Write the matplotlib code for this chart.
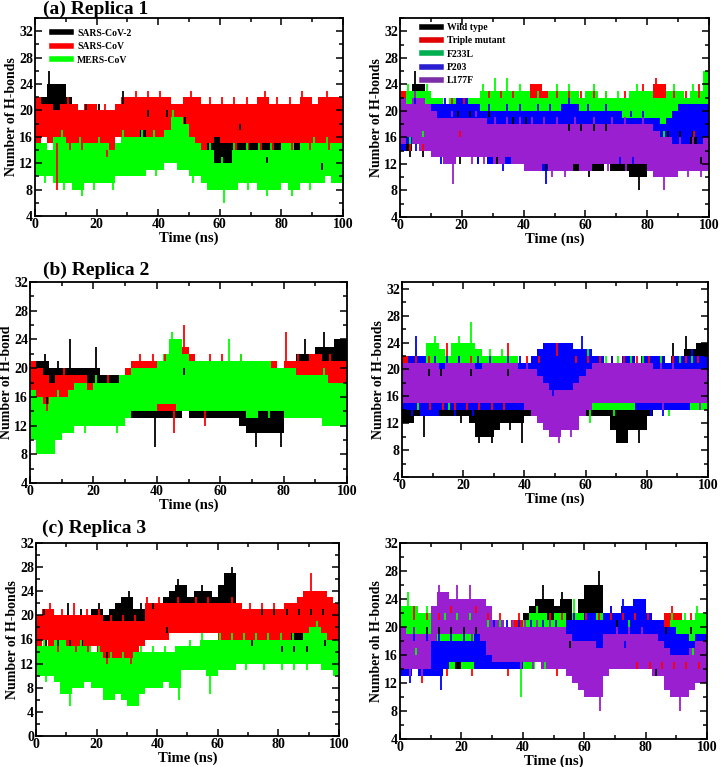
import numpy as np
import matplotlib
matplotlib.use("Agg")
import matplotlib.pyplot as plt
from matplotlib.lines import Line2D
from matplotlib.ticker import MultipleLocator

plt.rcParams["font.family"] = "Liberation Serif"
plt.rcParams["font.weight"] = "bold"
plt.rcParams["axes.labelweight"] = "bold"

# H-bond counts, in 2 ns blocks (0-2, 2-4, ... 98-100 ns):
# *_hi = top of the trace in the block, *_lo = bottom of the trace in the block

# ---- Replica 1, left: SARS-CoV-2 / SARS-CoV / MERS-CoV
r1_cov2_hi = [22,22,26,24,24,22,21,20,21,20,21,20,20,21,23,20,20,19,20,19,19,20,19,18,19,18,17,17,17,17,16,17,17,18,17,17,17,17,17,17,17,17,17,17,17,17,17,17,17,17]
r1_cov2_lo = [16,17,18,17,17,16,15,15,15,15,15,14,14,16,16,15,15,15,15,14,14,14,14,14,14,13,13,13,12,12,12,12,13,13,13,13,13,12,13,13,13,14,14,13,13,12,11,13,13,13]
r1_sars_hi = [22,21,21,20,21,22,21,20,21,21,20,21,20,21,22,22,23,22,23,22,23,22,21,21,22,23,22,21,22,21,22,21,22,21,22,21,22,23,21,22,21,22,21,23,22,21,22,23,22,22]
r1_sars_lo = [15,16,15,8,15,14,15,14,15,14,14,13,14,16,16,16,16,17,16,16,16,17,16,16,16,15,14,14,15,16,15,15,14,15,14,15,14,15,14,15,15,14,15,15,14,15,15,14,15,15]
r1_mers_hi = [15,15,14,16,17,15,15,16,15,15,16,15,14,15,17,16,16,17,16,17,16,17,20,19,18,16,15,14,15,12,13,12,15,14,15,14,15,14,15,14,15,15,14,15,15,16,15,16,15,15]
r1_mers_lo = [10,9,10,9,8,9,8,7,9,8,9,9,8,10,10,10,10,10,11,10,11,12,12,11,11,9,10,9,8,8,6,8,8,9,8,9,8,7,8,8,9,7,8,9,8,9,9,10,9,9]

# ---- Replica 1, right: wild type and mutants
r1_wt_hi = [22,23,26,24,22,21,20,20,19,20,19,20,19,19,20,19,19,18,19,18,19,18,18,19,18,18,17,18,17,18,17,18,17,18,17,17,17,16,16,17,17,16,16,17,16,17,16,17,16,17]
r1_wt_lo = [14,13,15,13,14,14,13,13,13,12,13,13,12,13,13,12,13,12,12,12,12,12,12,11,12,12,12,11,11,11,10,11,11,12,11,11,11,10,8,10,11,11,12,12,12,12,12,13,12,13]
r1_tm_hi = [23,22,23,22,21,22,22,21,22,21,22,21,22,22,23,22,23,22,23,22,23,24,24,23,22,23,22,23,22,23,22,23,22,23,22,22,23,22,23,24,23,25,24,22,23,22,23,22,24,22]
r1_tm_lo = [15,14,16,14,15,16,16,16,17,16,17,17,17,18,18,18,18,18,18,18,19,20,19,18,18,18,18,18,18,18,18,18,18,18,18,18,18,18,18,19,20,20,17,17,17,17,17,16,17,16]
r1_f233l_hi = [22,24,23,23,24,22,22,21,22,22,21,22,22,24,23,25,23,25,23,24,23,22,23,22,23,24,23,24,23,22,23,24,22,23,22,23,22,23,24,23,23,22,22,23,24,23,22,24,23,26]
r1_f233l_lo = [16,15,17,16,17,17,17,17,18,17,17,18,18,20,20,20,20,20,20,19,19,18,17,17,18,19,19,19,19,19,19,19,19,19,19,19,19,19,19,19,18,17,16,17,18,18,18,18,18,18]
r1_p203_hi = [22,21,22,21,20,21,21,22,21,22,22,21,21,20,21,20,20,21,20,21,20,20,21,20,21,20,21,22,21,20,21,20,20,21,20,20,19,20,19,20,19,19,18,19,20,21,21,21,21,21]
r1_p203_lo = [14,15,14,15,14,13,12,13,13,13,13,13,12,13,12,12,11,12,12,12,12,12,11,9,12,12,12,12,12,12,12,12,12,12,13,12,13,12,13,13,14,14,14,15,15,15,15,16,15,15]
r1_l177f_hi = [22,21,23,22,21,20,19,19,20,19,19,19,20,19,18,19,18,19,18,19,18,19,18,19,18,19,18,18,19,18,18,19,18,18,19,18,19,18,18,19,18,17,16,16,15,16,15,16,15,16]
r1_l177f_lo = [15,16,15,14,14,13,13,12,9,13,13,12,13,12,13,12,12,13,12,12,11,11,11,12,10,11,10,11,12,11,11,12,12,11,12,12,11,12,12,12,11,10,8,10,10,11,10,11,10,11]

# ---- Replica 2, left
r2_cov2_hi = [20,21,22,20,21,20,24,20,20,20,23,19,19,19,19,19,19,20,20,20,20,20,20,19,20,19,19,19,19,19,19,19,19,19,19,19,19,19,19,20,20,21,22,24,22,23,25,23,24,24]
r2_cov2_lo = [15,16,15,16,17,17,16,16,16,16,15,14,14,14,13,13,13,13,13,9,13,13,13,13,14,13,13,13,13,13,13,13,13,12,11,9,11,11,11,9,14,16,17,17,17,17,17,17,17,17]
r2_sars_hi = [21,20,19,18,19,20,19,19,19,18,19,18,19,18,19,20,21,22,21,22,21,22,21,23,26,22,21,21,22,21,22,21,21,22,21,21,20,21,21,20,25,21,22,21,22,22,21,22,21,21]
r2_sars_lo = [17,16,14,15,15,15,15,15,15,15,14,14,14,14,14,14,14,14,14,14,14,14,11,14,15,14,14,12,14,15,15,15,15,15,15,15,15,15,15,16,17,17,17,17,17,17,17,16,16,17]
r2_mers_hi = [17,16,15,16,17,16,17,18,18,17,19,18,18,18,19,19,20,20,20,20,21,22,25,24,22,21,21,21,21,21,21,24,21,22,21,21,21,21,20,20,20,20,19,19,19,19,20,18,18,18]
r2_mers_lo = [10,8,8,8,10,11,11,12,11,12,12,12,12,11,12,13,14,14,14,14,15,15,15,14,14,14,14,14,14,14,14,14,14,14,13,13,14,13,14,14,13,13,13,13,13,13,12,12,12,12]

# ---- Replica 2, right
r2_wt_hi = [22,20,20,19,20,19,20,19,19,19,19,20,19,19,19,19,19,20,19,19,19,19,19,19,19,19,19,19,19,19,19,19,19,19,19,19,19,19,19,19,20,21,22,21,24,22,25,23,24,24]
r2_wt_lo = [12,12,13,10,13,13,13,13,13,12,13,12,9,10,9,11,12,11,12,9,13,13,12,12,12,12,12,12,13,13,13,13,13,13,11,9,9,11,9,11,13,15,16,17,18,20,20,21,20,19]
r2_tm_hi = [22,21,22,21,22,21,22,24,21,22,21,22,21,22,22,21,22,24,22,21,22,21,22,21,22,24,22,21,22,21,22,21,22,21,22,21,22,21,22,21,22,21,22,21,22,21,22,21,22,21]
r2_tm_lo = [14,15,14,15,14,15,14,15,14,15,14,15,14,15,14,15,14,15,14,14,14,14,13,13,13,13,13,14,14,14,14,14,14,14,14,14,14,14,14,14,14,14,14,14,14,14,14,14,14,14]
r2_f233l_hi = [21,22,23,22,24,25,23,22,24,25,24,27,23,22,23,22,23,22,22,21,21,20,20,19,19,19,20,21,22,22,23,22,21,22,21,22,21,22,21,22,21,21,22,21,21,22,21,22,21,21]
r2_f233l_lo = [14,15,14,15,14,14,15,14,15,15,15,15,15,15,15,15,15,15,15,14,14,14,14,14,14,14,14,14,14,14,12,14,14,14,13,14,14,14,14,14,14,14,14,13,14,14,14,14,14,14]
r2_p203_hi = [21,22,25,22,21,22,21,22,21,22,21,21,22,21,22,21,21,22,21,22,21,22,23,24,24,24,24,24,23,25,23,22,22,21,22,21,22,22,21,22,22,22,22,21,22,22,22,23,22,22]
r2_p203_lo = [14,13,14,13,13,13,14,14,13,14,14,13,14,14,14,14,14,14,14,14,15,16,17,17,16,17,17,17,18,16,15,15,15,15,15,15,15,15,14,14,13,14,13,14,14,14,14,15,15,15]
r2_l177f_hi = [21,21,21,21,21,21,20,21,21,21,21,21,20,21,21,21,21,21,21,20,21,20,19,18,17,17,17,17,18,19,20,21,21,21,21,21,21,21,21,21,21,20,21,20,21,20,20,20,20,20]
r2_l177f_lo = [15,15,15,15,15,15,15,15,15,15,15,15,15,15,15,15,15,15,15,15,14,13,12,11,10,9,11,10,11,13,14,15,15,15,15,15,15,15,15,15,15,15,14,15,15,15,15,15,14,15]

# ---- Replica 3, left
r3_cov2_hi = [19,21,20,19,20,22,20,21,20,21,22,20,21,22,23,24,21,22,21,22,21,23,24,26,25,23,24,25,24,23,25,27,28,22,21,21,20,21,20,21,20,21,20,21,20,21,20,21,20,20]
r3_cov2_lo = [16,15,16,15,16,15,16,15,16,15,14,13,15,16,16,17,16,16,17,17,18,17,19,19,19,18,18,18,18,19,20,19,17,16,16,15,16,15,15,15,14,15,14,15,14,15,16,15,16,15]
r3_sars_hi = [20,21,22,20,21,20,22,20,21,20,21,19,20,19,20,19,20,19,23,22,23,22,22,23,22,22,23,22,23,22,22,22,23,22,21,22,21,22,21,22,21,22,22,23,24,27,24,24,23,22]
r3_sars_lo = [15,16,15,14,15,15,14,15,14,15,14,12,13,13,13,12,14,15,16,16,16,16,17,17,17,17,17,17,17,17,16,16,16,16,16,16,16,16,16,16,16,16,17,17,17,17,17,16,16,16]
r3_mers_hi = [15,16,15,16,16,15,15,16,15,14,15,13,14,13,14,13,14,15,14,15,14,15,14,15,15,16,15,17,16,16,17,16,17,16,17,16,17,16,17,16,17,16,17,16,17,18,19,17,16,16]
r3_mers_lo = [10,9,10,9,7,5,8,8,9,8,8,6,6,7,6,5,5,7,8,8,8,9,8,6,11,11,11,11,7,10,11,11,11,12,11,12,12,11,12,12,11,12,11,12,11,12,12,11,11,10]

# ---- Replica 3, right
r3_wt_hi = [20,19,20,19,20,19,20,19,20,19,20,19,20,19,20,20,21,20,21,21,22,23,24,26,24,23,25,24,22,24,26,26,28,21,20,21,20,20,20,20,20,20,19,20,19,19,19,20,19,20]
r3_wt_lo = [14,14,14,14,14,14,14,14,14,14,14,14,14,14,14,14,14,14,14,14,16,18,19,20,19,18,18,17,18,19,20,20,17,15,14,14,14,14,14,14,14,13,14,14,14,14,14,14,14,14]
r3_tm_hi = [22,21,23,21,22,20,22,21,23,22,21,22,23,21,22,21,22,20,21,22,21,22,23,21,22,21,22,21,22,20,22,21,22,21,23,21,22,21,22,21,22,20,21,22,23,22,21,22,21,21]
r3_tm_lo = [14,15,14,12,14,15,14,13,14,15,14,13,15,14,14,15,14,13,14,15,14,14,15,14,14,13,14,14,15,14,14,15,14,14,15,14,14,15,14,15,14,15,14,15,14,15,14,15,14,15]
r3_f233l_hi = [23,25,23,22,23,22,21,22,21,22,21,22,21,20,21,20,21,20,21,20,21,22,23,22,21,22,22,21,24,22,22,22,22,21,21,20,20,21,20,20,20,19,20,20,22,21,22,21,23,22]
r3_f233l_lo = [15,17,16,17,15,14,14,14,14,15,14,14,14,14,15,14,14,15,14,10,14,14,15,14,15,15,15,15,15,15,17,18,17,16,16,15,15,15,15,15,15,15,15,16,17,17,17,16,17,16]
r3_p203_hi = [19,18,19,18,19,18,19,18,19,18,19,18,19,20,20,21,20,21,20,21,20,21,20,21,20,21,20,21,22,21,22,22,21,22,23,22,24,23,24,24,22,21,21,20,20,19,19,18,19,19]
r3_p203_lo = [13,12,14,13,13,13,11,14,15,15,15,15,14,14,14,14,14,14,14,14,15,15,15,15,15,15,15,15,16,16,16,16,17,17,17,18,17,18,17,17,16,16,15,15,14,13,13,14,13,13]
r3_l177f_hi = [20,19,20,19,19,23,26,25,24,26,24,26,24,24,23,21,21,20,21,20,21,20,21,20,21,20,20,19,18,18,18,18,17,19,19,20,19,20,19,20,19,19,18,17,16,16,16,17,18,18]
r3_l177f_lo = [14,13,14,13,14,18,19,19,19,19,19,18,19,18,16,15,15,15,15,14,15,14,15,14,14,14,14,13,12,11,10,10,8,13,14,14,14,14,14,14,14,13,13,11,10,8,10,11,12,12]

left_names = ["SARS-CoV-2", "SARS-CoV", "MERS-CoV"]
right_names = ["Wild type", "Triple mutant", "F233L", "P203", "L177F"]
left_colors = ["black", "#ff0000", "#00ff00"]
right_colors = ["black", "#ff0000", "#00ff00", "#0000ff", "#9a1fd0"]
right_legend_colors = ["black", "#e00000", "#00b050", "#2a1fd0", "#7a2fa8"]

BLOCK = 2  # ns per reading


def trace(ax, hi, lo, color):
    # a block that sticks out past both neighbours is drawn as a thin spike,
    # everything else as a solid band
    hi = np.asarray(hi, float)
    lo = np.asarray(lo, float)
    ph = np.concatenate([[hi[0]], hi, [hi[-1]]])
    pl = np.concatenate([[lo[0]], lo, [lo[-1]]])
    core_hi = np.minimum(hi, np.maximum(ph[:-2], ph[2:]))
    core_lo = np.maximum(lo, np.minimum(pl[:-2], pl[2:]))
    t = np.arange(len(hi) + 1) * BLOCK
    ax.fill_between(t, np.append(core_lo, core_lo[-1]), np.append(core_hi, core_hi[-1]),
                    step="post", color=color, lw=0)
    tc = np.arange(len(hi)) * BLOCK
    up = hi > core_hi
    dn = lo < core_lo
    ax.vlines(tc[up] + 0.7, core_hi[up], hi[up], color=color, lw=1.3)
    ax.vlines(tc[dn] + 1.3, lo[dn], core_lo[dn], color=color, lw=1.3)


def style(ax, ylab, ylo, yhi):
    ax.set_xlim(0, 100)
    ax.set_ylim(ylo, yhi)
    ax.xaxis.set_major_locator(MultipleLocator(20))
    ax.xaxis.set_minor_locator(MultipleLocator(10))
    ax.yaxis.set_major_locator(MultipleLocator(4))
    ax.yaxis.set_minor_locator(MultipleLocator(2))
    ax.tick_params(which="both", direction="in", top=True, right=True, labelsize=10, width=1.1)
    ax.tick_params(which="major", length=5, pad=1.5)
    ax.tick_params(which="minor", length=3)
    for s in ax.spines.values():
        s.set_linewidth(1.3)
    ax.set_xlabel("Time (ns)", fontsize=10.5, labelpad=0)
    ax.set_ylabel(ylab, fontsize=10, labelpad=1)


def add_ax(x0, y0, x1, y1):
    W, H = 721, 767
    return fig.add_axes([x0 / W, 1 - y1 / H, (x1 - x0) / W, (y1 - y0) / H])


fig = plt.figure(figsize=(7.21, 7.67), dpi=100)

panels = [
    ((35, 18, 343, 216), [(r1_cov2_hi, r1_cov2_lo), (r1_sars_hi, r1_sars_lo), (r1_mers_hi, r1_mers_lo)],
     "Number of H-bonds", (4, 34), (0.055, 0.945)),
    ((400, 18, 709, 217), [(r1_wt_hi, r1_wt_lo), (r1_tm_hi, r1_tm_lo), (r1_f233l_hi, r1_f233l_lo),
                           (r1_p203_hi, r1_p203_lo), (r1_l177f_hi, r1_l177f_lo)],
     "Number of H-bonds", (4, 34), (0.07, 0.975)),
    ((30, 282, 347, 483), [(r2_cov2_hi, r2_cov2_lo), (r2_sars_hi, r2_sars_lo), (r2_mers_hi, r2_mers_lo)],
     "Number of H-bond", (4, 32), None),
    ((402, 282, 708, 477), [(r2_wt_hi, r2_wt_lo), (r2_tm_hi, r2_tm_lo), (r2_f233l_hi, r2_f233l_lo),
                            (r2_p203_hi, r2_p203_lo), (r2_l177f_hi, r2_l177f_lo)],
     "Number of H-bonds", (4, 33), None),
    ((36, 543, 339, 736), [(r3_cov2_hi, r3_cov2_lo), (r3_sars_hi, r3_sars_lo), (r3_mers_hi, r3_mers_lo)],
     "Number of H-bonds", (0, 32), None),
    ((400, 543, 707, 739), [(r3_wt_hi, r3_wt_lo), (r3_tm_hi, r3_tm_lo), (r3_f233l_hi, r3_f233l_lo),
                            (r3_p203_hi, r3_p203_lo), (r3_l177f_hi, r3_l177f_lo)],
     "Number oh H-bonds", (4, 32), None),
]

for box, series, ylab, ylim, leg_at in panels:
    ax = add_ax(*box)
    left = len(series) == 3
    colors = left_colors if left else right_colors
    for (hi, lo), c in zip(series, colors):
        trace(ax, hi, lo, c)
    style(ax, ylab, *ylim)
    if leg_at is not None:
        names = left_names if left else right_names
        lcols = left_colors if left else right_legend_colors
        handles = [Line2D([], [], color=c, lw=4) for c in lcols]
        ax.legend(handles, names, loc="upper left", bbox_to_anchor=leg_at, frameon=False,
                  prop={"family": "Liberation Serif", "weight": "bold", "size": 7},
                  handlelength=2.0, handletextpad=0.6, labelspacing=0.45,
                  borderpad=0, borderaxespad=0)

fig.text(43 / 721, 1 - 9 / 767, "(a) Replica 1", fontsize=14, fontweight="bold", va="center")
fig.text(43 / 721, 1 - 270 / 767, "(b) Replica 2", fontsize=14, fontweight="bold", va="center")
fig.text(42 / 721, 1 - 528 / 767, "(c) Replica 3", fontsize=14, fontweight="bold", va="center")

fig.savefig("out.png", dpi=100)
